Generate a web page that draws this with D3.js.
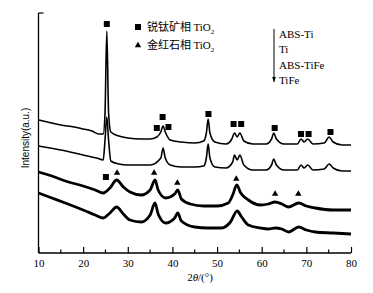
<!DOCTYPE html>
<html>
<head>
<meta charset="utf-8">
<script src="https://cdn.jsdelivr.net/npm/d3@7"></script>
<style>
  html, body { margin: 0; padding: 0; background: #fff; }
</style>
</head>
<body>
<div id="chart"></div>
<script>
const width = 373;
const height = 293;

// series: [2theta, intensity (a.u.)]
const absTi = [[10,133],[12,131],[15,128],[18,126],[20,124],[22,122],[23.5,119],[24.5,119],[24.9,140],[25.3,222],[25.7,140],[26.2,121],[28,117],[30,115],[33,114],[35,114],[36.5,116],[37.4,121],[37.9,127],[38.4,121],[39.5,113],[42,111],[45,110],[47,112],[47.6,120],[48.0,134],[48.4,120],[49.5,111],[52,109],[53.3,114],[53.9,120],[54.5,116],[55.1,120],[56,112],[58,109],[61,109],[62.2,114],[62.7,120],[63.3,114],[65,109],[68,109],[68.8,114],[69.5,111],[70.3,114],[71.5,109],[74,110],[75.1,116],[76,111],[78,108],[80,108]];
const ti = [[10,107],[15,103],[20,98],[23,95],[24.5,93],[24.9,113],[25.3,136],[25.7,113],[26.2,92],[28,89],[30,88],[33,88],[35,88],[37.4,95],[37.9,105],[38.4,95],[39.5,88],[42,86],[45,86],[47,87],[47.6,95],[48.0,109],[48.4,95],[49.5,86],[52,85],[53.5,91],[53.9,98],[54.5,93],[55.1,98],[56,88],[58,83],[61,83],[62.2,88],[62.7,94],[63.3,88],[65,83],[68,83],[68.8,88],[69.5,85],[70.3,88],[71.5,83],[74,84],[75.1,89],[76,85],[78,82],[80,82]];
const absTiFe = [[10,81],[13,77],[16,72],[20,67],[22.7,63],[24.5,60],[26,65],[27.5,73],[29,66],[30.5,61],[33,58],[35,63],[36.1,73],[36.8,63],[38.5,55],[40.5,59],[41.2,63],[42,54],[44,49],[47,47],[50,47],[52.5,50],[53.5,58],[54.4,68],[55.3,60],[57,53],[59.7,48],[61.5,49],[63,51],[64.5,49],[66,46],[68.3,50],[70,47],[72,45],[76,43],[80,43]];
const tiFe = [[10,60],[13,55],[16,50],[20,43],[22.7,38],[24.5,35],[26,40],[27.5,46],[29,39],[30.5,33],[33,31],[35,38],[36.1,50],[36.8,39],[38.5,30],[40.5,35],[41.2,40],[42,32],[45,26],[48,25],[51,25],[53,31],[54.5,42],[55.5,36],[57,28],[59.7,25],[61.5,24],[63,25],[64.5,24],[66,21],[68.3,26],[70,23],[72,21],[76,20],[80,19]];

// phase markers
const anataseMarks = [[25.3,229],[36.5,125],[37.8,136],[39.1,126],[48.07,139],[53.7,129],[55.4,129],[62.9,125],[68.8,119],[70.5,119],[75.4,121],[25.1,76]];
const rutileMarks = [[27.6,80],[35.9,80],[41.1,70],[54.3,74],[63.0,59],[68.2,59]];

const xTicks = [10, 20, 30, 40, 50, 60, 70, 80];
const xMinorTicks = [15, 25, 35, 45, 55, 65, 75];
const sampleNames = ['ABS-Ti', 'Ti', 'ABS-TiFe', 'TiFe'];

const svg = d3.select('#chart')
  .append('svg')
    .attr('width', width)
    .attr('height', height);

const x = d3.scaleLinear().domain([10, 80]).range([38.5, 351]);
const y = d3.scaleLinear().domain([0, 240]).range([253, 13]);

const line = d3.line()
  .x(d => x(d[0]))
  .y(d => y(d[1]))
  .curve(d3.curveMonotoneX);

// traces
const traces = [
  { data: absTi, w: 1.6 },
  { data: ti, w: 1.6 },
  { data: absTiFe, w: 2.8 },
  { data: tiFe, w: 2.8 }
];
svg.selectAll('path.trace')
  .data(traces)
  .join('path')
    .attr('class', 'trace')
    .attr('d', d => line(d.data))
    .attr('fill', 'none')
    .attr('stroke', '#000')
    .attr('stroke-width', d => d.w)
    .attr('stroke-linejoin', 'round');

// markers
svg.selectAll('rect.ana')
  .data(anataseMarks)
  .join('rect')
    .attr('class', 'ana')
    .attr('x', d => x(d[0]) - 3)
    .attr('y', d => y(d[1]) - 3)
    .attr('width', 6)
    .attr('height', 6)
    .attr('fill', '#000');

const tri = d3.symbol().type(d3.symbolTriangle).size(18);
svg.selectAll('path.rut')
  .data(rutileMarks)
  .join('path')
    .attr('class', 'rut')
    .attr('d', tri)
    .attr('transform', d => `translate(${x(d[0])},${y(d[1])})`)
    .attr('fill', '#000');

// axes
const axisBottom = d3.axisBottom(x).tickValues(xTicks).tickSize(-6).tickPadding(6);
const gx = svg.append('g')
  .attr('transform', `translate(0, ${y(0)})`)
  .call(axisBottom);
gx.select('.domain').attr('d', `M${x(10)},0H${x(80)}`).attr('stroke-width', 1.3);
gx.selectAll('.tick line').attr('stroke-width', 1.2);
gx.selectAll('.tick text')
  .attr('font-family', '"Liberation Serif", serif')
  .attr('font-size', 11)
  .attr('fill', '#000');

gx.selectAll('line.minor')
  .data(xMinorTicks)
  .join('line')
    .attr('class', 'minor')
    .attr('x1', d => x(d))
    .attr('x2', d => x(d))
    .attr('y1', 0)
    .attr('y2', -3.5)
    .attr('stroke', '#000')
    .attr('stroke-width', 1.2);

svg.append('line')
  .attr('x1', x(10)).attr('x2', x(10))
  .attr('y1', y(240)).attr('y2', y(0))
  .attr('stroke', '#000').attr('stroke-width', 1.3);
svg.append('line')
  .attr('x1', x(10)).attr('x2', x(10) + 5)
  .attr('y1', y(240)).attr('y2', y(240))
  .attr('stroke', '#000').attr('stroke-width', 1.2);

// axis titles
svg.append('text')
  .attr('x', 200)
  .attr('y', 281)
  .attr('text-anchor', 'middle')
  .attr('font-family', '"Liberation Serif", serif')
  .attr('font-size', 11)
  .html('2<tspan font-style="italic">θ</tspan>/(°)');

svg.append('text')
  .attr('transform', 'translate(29, 138) rotate(-90)')
  .attr('text-anchor', 'middle')
  .attr('font-family', '"Liberation Sans", Arial, sans-serif')
  .attr('font-size', 10)
  .text('Intensity(a.u.)');

// legend
const legend = svg.append('g');
legend.append('rect').attr('x', 135).attr('y', 24).attr('width', 6).attr('height', 6);
legend.append('path').attr('d', tri).attr('transform', 'translate(138, 45.5)');
const legendItems = [['锐钛矿相', 27], ['金红石相', 45]];
legendItems.forEach(([name, ly]) => {
  const t = legend.append('text')
    .attr('x', 147)
    .attr('y', ly + 4)
    .attr('font-size', 11);
  t.append('tspan').attr('font-family', '"Noto Sans CJK SC", sans-serif').text(name + ' ');
  t.append('tspan').attr('font-family', '"Liberation Serif", serif').text('TiO');
  t.append('tspan').attr('font-family', '"Liberation Serif", serif')
    .attr('font-size', 7).attr('dy', 3).text('2');
});

// sample order arrow
svg.append('defs').append('marker')
  .attr('id', 'ah')
  .attr('viewBox', '0 0 6 8')
  .attr('refX', 3).attr('refY', 8)
  .attr('markerWidth', 4).attr('markerHeight', 5)
  .attr('markerUnits', 'userSpaceOnUse')
  .append('path').attr('d', 'M0,0L3,8L6,0Z').attr('fill', '#000');
svg.append('line')
  .attr('x1', 274).attr('x2', 274)
  .attr('y1', 29).attr('y2', 82)
  .attr('stroke', '#000').attr('stroke-width', 1)
  .attr('marker-end', 'url(#ah)');

svg.selectAll('text.sample')
  .data(sampleNames)
  .join('text')
    .attr('class', 'sample')
    .attr('x', 279)
    .attr('y', (d, i) => 38 + i * 15.3)
    .attr('font-family', '"Liberation Serif", serif')
    .attr('font-size', 11)
    .text(d => d);
</script>
</body>
</html>
